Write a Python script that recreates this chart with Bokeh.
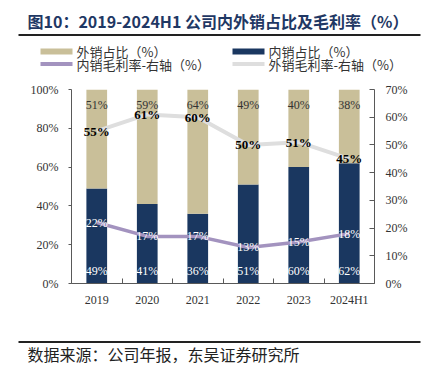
from bokeh.plotting import figure
from bokeh.layouts import column
from bokeh.models import (ColumnDataSource, Range1d, LinearAxis, FixedTicker,
                          PrintfTickFormatter)
from bokeh.core.properties import value
from bokeh.embed import file_html
from bokeh.resources import INLINE

# ---- data ----
categories = ["2019", "2020", "2021", "2022", "2023", "2024H1"]
domestic_share = [49, 41, 36, 51, 60, 62]
export_share = [51, 59, 64, 49, 40, 38]
domestic_margin = [22, 17, 17, 13, 15, 18]
export_margin = [55, 61, 60, 50, 51, 45]
left_ticks = [0, 20, 40, 60, 80, 100]
right_ticks = [0, 10, 20, 30, 40, 50, 60, 70]
title_text = "图10：2019-2024H1 公司内外销占比及毛利率（%）"
legend_labels = ["外销占比（%）", "内销占比（%）", "内销毛利率-右轴（%）", "外销毛利率-右轴（%）"]
source_text = "数据来源：公司年报，东吴证券研究所"

TAN = "#C9BF99"
NAVY = "#1A3760"
PURPLE = "#A393BF"
GRAYL = "#DEDEDE"
AXIS = "#595959"
SERIF = value("Liberation Serif")
CJK = value("Noto Sans CJK SC")
W = 426


def blank_fig(h):
    f = figure(width=W, height=h, output_backend="svg", toolbar_location=None, tools="",
               title=None, x_range=Range1d(0, W), y_range=Range1d(h, 0),
               x_axis_type=None, y_axis_type=None, frame_align=False,
               min_border_left=0, min_border_right=0, min_border_top=0, min_border_bottom=0)
    f.outline_line_color = None
    f.xgrid.visible = False
    f.ygrid.visible = False
    return f


# ---- header: title, rule, legend ----
HH = 80
head = blank_fig(HH)
head.text(x=[27], y=[20], text=[title_text], text_font=CJK, text_font_style="bold",
          text_font_size="16px", text_color="#1F3864", text_baseline="middle", text_align="left")
head.segment(x0=[18], y0=[34.5], x1=[420], y1=[34.5], line_color="#222222", line_width=2)

leg_x = [40, 232, 40, 232]
leg_y = [51, 51, 63.5, 63.5]
head.rect(x=[leg_x[0] + 16, leg_x[1] + 16], y=[leg_y[0], leg_y[1]], width=32, height=6,
          fill_color=[TAN, NAVY], line_color=None)
head.segment(x0=[leg_x[2], leg_x[3]], y0=[leg_y[2], leg_y[3]],
             x1=[leg_x[2] + 32, leg_x[3] + 32], y1=[leg_y[2], leg_y[3]],
             line_color=[PURPLE, GRAYL], line_width=4)
head.text(x=[x + 36 for x in leg_x], y=leg_y, text=legend_labels, text_font=CJK,
          text_font_size="13px", text_color="#333333", text_baseline="middle", text_align="left")

# ---- main chart ----
xs = [i + 0.5 for i in range(len(categories))]
src = ColumnDataSource(dict(
    x=xs,
    dom=domestic_share,
    top=[d + e for d, e in zip(domestic_share, export_share)],
    dom_lbl=[f"{v}%" for v in domestic_share],
    exp_lbl=[f"{v}%" for v in export_share],
    dm=domestic_margin,
    em=export_margin,
    dm_lbl=[f"{v}%" for v in domestic_margin],
    em_lbl=[f"{v}%" for v in export_margin],
    exp_y=[92] * len(categories),
    dom_y=[6.5] * len(categories),
))

p = figure(width=W, height=238, output_backend="svg", toolbar_location=None, title=None,
           x_range=Range1d(0, len(categories)), y_range=Range1d(0, 100), frame_align=False,
           min_border_left=71, min_border_right=52, min_border_top=9,
           min_border_bottom=35, tools="")
p.extra_y_ranges = {"right": Range1d(0, 70)}
p.outline_line_color = None
p.xgrid.visible = False
p.ygrid.visible = False

p.vbar(x="x", bottom=0, top="dom", width=0.41, source=src, fill_color=NAVY, line_color=None)
p.vbar(x="x", bottom="dom", top="top", width=0.41, source=src, fill_color=TAN, line_color=None)

p.line(x="x", y="em", source=src, y_range_name="right", line_color=GRAYL, line_width=4)
p.line(x="x", y="dm", source=src, y_range_name="right", line_color=PURPLE, line_width=3.5)

p.text(x="x", y="exp_y", text="exp_lbl", source=src, text_align="center", text_baseline="middle",
       text_font=SERIF, text_font_size="12px", text_color="#333333")
p.text(x="x", y="dom_y", text="dom_lbl", source=src, text_align="center", text_baseline="middle",
       text_font=SERIF, text_font_size="12px", text_color="white")
p.text(x="x", y="dm", text="dm_lbl", source=src, y_range_name="right", text_align="center",
       text_baseline="middle", text_font=SERIF, text_font_size="12px", text_color="white")
p.text(x="x", y="em", text="em_lbl", source=src, y_range_name="right", text_align="center",
       text_baseline="middle", text_font=SERIF, text_font_size="13px", text_color="black",
       text_font_style="bold")


def style_axis(ax):
    ax.axis_line_color = AXIS
    ax.major_tick_line_color = AXIS
    ax.minor_tick_line_color = AXIS
    ax.major_label_text_font = "Liberation Serif"
    ax.major_label_text_font_size = "12px"
    ax.major_label_text_color = "#333333"


ly = p.yaxis[0]
ly.ticker = FixedTicker(ticks=left_ticks)
ly.formatter = PrintfTickFormatter(format="%d%%")
style_axis(ly)
ly.major_tick_in = 0
ly.major_tick_out = 3
ly.minor_tick_line_color = None
ly.major_label_standoff = 10

ry = LinearAxis(y_range_name="right", ticker=FixedTicker(ticks=right_ticks),
                formatter=PrintfTickFormatter(format="%d%%"))
style_axis(ry)
ry.major_tick_in = 5
ry.major_tick_out = 0
ry.minor_tick_line_color = None
ry.major_label_standoff = 11
p.add_layout(ry, "right")

bx = p.xaxis[0]
bx.ticker = FixedTicker(ticks=xs, minor_ticks=list(range(len(categories) + 1)))
bx.major_label_overrides = {x: c for x, c in zip(xs, categories)}
style_axis(bx)
bx.major_tick_line_color = None
bx.major_tick_in = 0
bx.major_tick_out = 0
bx.minor_tick_in = 5
bx.minor_tick_out = 0
bx.major_label_standoff = 9

# ---- footer: rule and source ----
FH = 54
foot = blank_fig(FH)
foot.segment(x0=[18], y0=[23.5], x1=[420], y1=[23.5], line_color="#222222", line_width=2)
foot.text(x=[27], y=[35.5], text=[source_text], text_font=CJK, text_font_size="16px",
          text_color="#222222", text_baseline="middle", text_align="left")

layout = column(head, p, foot, spacing=0)
open("out.html", "w").write(file_html(layout, INLINE))
